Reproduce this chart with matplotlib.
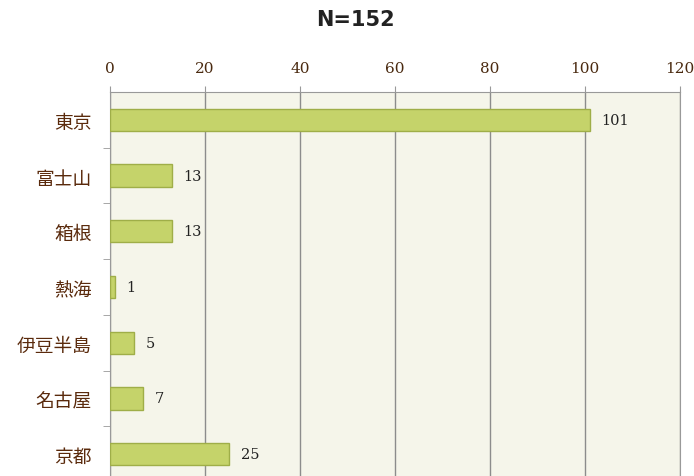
import numpy as np
import matplotlib
matplotlib.use('Agg')
from matplotlib import pyplot as plt

plt.rcParams['font.family'] = ['Noto Sans CJK JP', 'DejaVu Sans']

places = ['東京', '富士山', '箱根', '熱海', '伊豆半島', '名古屋', '京都']
counts = [101, 13, 13, 1, 5, 7, 25]
xticks = [0, 20, 40, 60, 80, 100, 120]

fig = plt.figure(figsize=(6.94, 4.77), dpi=100)
ax = fig.add_axes([110/694, -6/477, 570/694, 390/477])
ax.set_facecolor('#f5f5ea')

y = np.arange(len(places))
ax.barh(y, counts, height=0.4, color='#c5d36a', edgecolor='#9fae48', linewidth=1, zorder=3)
for yi, c in zip(y, counts):
    ax.text(c + 2.5, yi, str(c), va='center', ha='left', fontsize=10.5,
            color='#222222', family='DejaVu Serif')

ax.set_xlim(0, 120)
ax.set_ylim(len(places) - 0.5, -0.5)
ax.set_xticks(xticks)
ax.xaxis.tick_top()
ax.tick_params(axis='x', length=4, color='#999999', labelsize=11,
               labelcolor='#4a2a10', pad=8)
for lab in ax.get_xticklabels():
    lab.set_family('DejaVu Serif')
ax.grid(axis='x', color='#8c8c8c', linewidth=1, zorder=1)

ax.set_yticks(y)
ax.set_yticklabels(places, fontsize=13.5, color='#5a2a0c')
ax.set_yticks(np.arange(len(places)) + 0.5, minor=True)
ax.tick_params(axis='y', which='major', length=0, pad=13)
ax.tick_params(axis='y', which='minor', length=5, color='#999999')

for s in ['left', 'top', 'right']:
    ax.spines[s].set_color('#999999')
ax.spines['bottom'].set_visible(False)

fig.text(355/694, 1 - 20/477, 'N=152', ha='center', va='center',
         fontsize=15, fontweight='bold', color='#222222', family='DejaVu Sans')

fig.savefig('out.png', dpi=100)
